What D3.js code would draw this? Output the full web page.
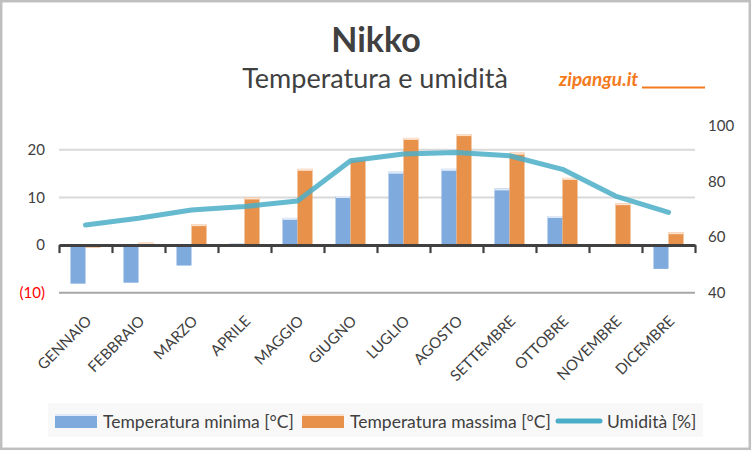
<!DOCTYPE html>
<html><head><meta charset="utf-8">
<script src="https://cdn.jsdelivr.net/npm/d3@7"></script>
<style>body{margin:0;background:#fff}svg{display:block}text{font-family:Lato,"Noto Sans",sans-serif}</style>
</head><body>
<svg id="c" width="752" height="452"></svg>
<script>
const months = ["GENNAIO","FEBBRAIO","MARZO","APRILE","MAGGIO","GIUGNO","LUGLIO","AGOSTO","SETTEMBRE","OTTOBRE","NOVEMBRE","DICEMBRE"];
const tempMin = [-8.1,-7.9,-4.3,0.3,5.7,10.3,15.4,16.0,11.9,6.1,0.2,-5.0];
const tempMax = [-0.5,0.5,4.4,10.0,16.0,18.2,22.5,23.3,19.4,14.1,8.8,2.7];
const humidity = [64.4,66.8,69.8,71.0,73.0,87.5,89.9,90.5,89.3,84.4,74.8,68.9];
const leftTicks = [-10,0,10,20];
const rightTicks = [40,60,80,100];
const seriesNames = ["Temperatura minima [°C]","Temperatura massima [°C]","Umidità [%]"];

const svg = d3.select("#c");
const txt = "#404040";
const cMin = "#7eaadd", cMax = "#e8914a", cMinL = "#dfe9f7", cMaxL = "#fbe2cf", cHum = "#4aaec8";

svg.append("rect").attr("x",1.2).attr("y",1.2).attr("width",748.6).attr("height",447.6)
  .attr("fill","#fff").attr("stroke","#bfbfbf").attr("stroke-width",2.5);

const x = d3.scaleBand().domain(months).range([59,695]).padding(0);
const xs = d3.scaleBand().domain(["min","max"]).range([11.5,41.5]).padding(0);
const yL = d3.scaleLinear().domain([-10,25]).range([292.7,126]);
const yR = d3.scaleLinear().domain([40,100]).range([292.7,126]);

// gridlines
svg.append("g").selectAll("line").data(leftTicks.filter(d=>d!==0)).join("line")
  .attr("x1",59).attr("x2",695).attr("y1",d=>yL(d)).attr("y2",d=>yL(d))
  .attr("stroke",d=>d<0?"#a6a6a6":"#d9d9d9").attr("stroke-width",2);

// bars
const rows = months.map((m,i)=>({m, min:tempMin[i], max:tempMax[i]}));
const g = svg.append("g");
[["min",cMin,cMinL],["max",cMax,cMaxL]].forEach(([k,c,cl])=>{
  g.selectAll("rect."+k).data(rows).join("rect").attr("class",k)
    .attr("x",d=>x(d.m)+xs(k)).attr("width",xs.bandwidth())
    .attr("y",d=>Math.min(yL(d[k]),yL(0))).attr("height",d=>Math.abs(yL(d[k])-yL(0)))
    .attr("fill",c);
  g.selectAll("rect."+k+"l").data(rows.filter(d=>d[k]>0)).join("rect").attr("class",k+"l")
    .attr("x",d=>x(d.m)+xs(k)).attr("width",xs.bandwidth())
    .attr("y",d=>yL(d[k])).attr("height",d=>Math.min(2,yL(0)-yL(d[k])))
    .attr("fill",cl);
});

// x axis line at 0
const xi = d3.scaleLinear().domain([0,12]).range([59,695]);
const ax = svg.append("g").attr("transform",`translate(0,${yL(0)})`)
  .call(d3.axisBottom(xi).tickValues(d3.range(13)).tickSize(8).tickSizeOuter(0).tickFormat(""));
ax.select(".domain").attr("stroke","#404040").attr("stroke-width",3);
ax.selectAll(".tick line").attr("stroke","#404040").attr("stroke-width",2.2);

// humidity line
const line = d3.line().x((d,i)=>x(months[i])+x.bandwidth()/2).y(d=>yR(d));
svg.append("path").datum(humidity).attr("d",line).attr("fill","none")
  .attr("stroke",cHum).attr("stroke-width",5).attr("stroke-opacity",0.85)
  .attr("stroke-linejoin","round").attr("stroke-linecap","round");

// left axis labels
const la = svg.append("g").attr("transform","translate(45,0)")
  .call(d3.axisLeft(yL).tickValues(leftTicks).tickSize(0).tickPadding(0)
    .tickFormat(d=>d<0?`(${-d})`:d));
la.select(".domain").remove();
la.selectAll("text").attr("font-family","Lato").attr("font-size",15)
  .attr("fill",d=>d<0?"#ff0000":txt);

const ra = svg.append("g").attr("transform","translate(708,0)")
  .call(d3.axisRight(yR).tickValues(rightTicks).tickSize(0).tickPadding(0));
ra.select(".domain").remove();
ra.selectAll("text").attr("font-family","Lato").attr("font-size",15).attr("fill",txt);

// category labels
svg.append("g").selectAll("text").data(months).join("text")
  .attr("transform",d=>`translate(${x(d)+x.bandwidth()/2+7},${322}) rotate(-45)`)
  .attr("text-anchor","end").attr("font-size",15).attr("fill",txt).text(d=>d);

// titles
svg.append("text").attr("x",376).attr("y",51.5).attr("text-anchor","middle")
  .attr("font-size",34).attr("font-weight","bold").attr("fill",txt).text("Nikko");
svg.append("text").attr("x",375).attr("y",88).attr("text-anchor","middle")
  .attr("font-size",27).attr("fill",txt).text("Temperatura e umidità");
svg.append("text").attr("x",559).attr("y",85.5).attr("font-size",19)
  .attr("font-weight","bold").attr("font-style","italic").attr("fill","#f47a20").text("zipangu.it");
svg.append("line").attr("x1",642).attr("x2",705).attr("y1",87.5).attr("y2",87.5)
  .attr("stroke","#f47a20").attr("stroke-width",2);

// legend
const lg = svg.append("g");
lg.append("rect").attr("x",48).attr("y",403).attr("width",655).attr("height",34).attr("fill","#f8f8f8");
const items = [{n:seriesNames[0],c:cMin,t:"bar",sx:55,tx:103},{n:seriesNames[1],c:cMax,t:"bar",sx:302,tx:350},{n:seriesNames[2],c:cHum,t:"line",sx:556,tx:607}];
items.forEach(it=>{
  if(it.t==="bar"){
    lg.append("rect").attr("x",it.sx).attr("y",414).attr("width",42).attr("height",14).attr("fill",it.c);
    lg.append("rect").attr("x",it.sx).attr("y",414).attr("width",42).attr("height",2).attr("fill",it.c===cMin?cMinL:cMaxL);
  } else {
    lg.append("line").attr("x1",it.sx+2).attr("x2",it.sx+44).attr("y1",421).attr("y2",421)
      .attr("stroke",it.c).attr("stroke-width",5).attr("stroke-linecap","round");
  }
  lg.append("text").attr("x",it.tx).attr("y",427.5).attr("font-size",17.5).attr("fill",txt).text(it.n);
});
</script>
</body></html>
